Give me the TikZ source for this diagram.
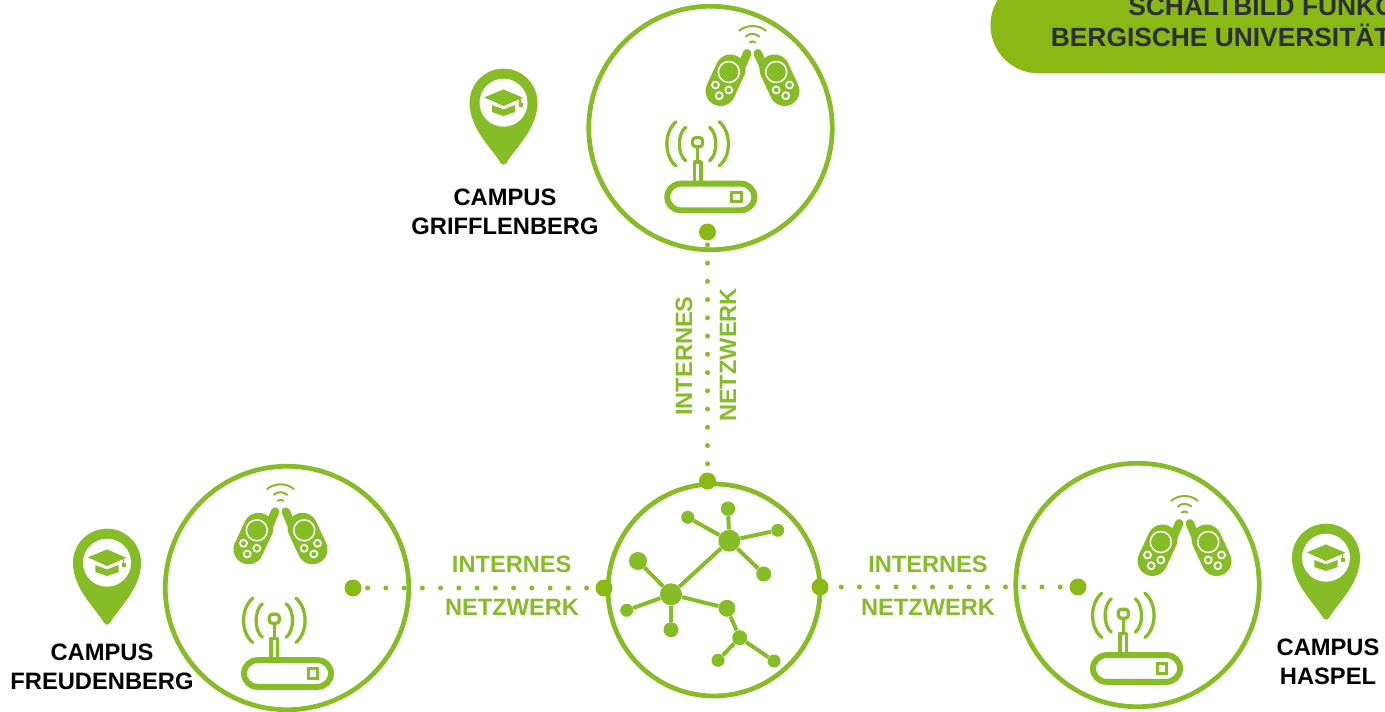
\documentclass[tikz,border=0pt]{standalone}
\usepackage{fontspec}
\usepackage{xcolor}
\setmainfont{Liberation Sans}
\definecolor{funkgreen}{HTML}{86BC25}
\definecolor{bannergreen}{HTML}{8AB916}
\definecolor{bannertext}{HTML}{2B2E33}
\tikzset{
  campusring/.style={circle,draw=funkgreen,line width=0.095cm,inner sep=0pt,minimum size=#1},
  hubdot/.style={circle,fill=bannergreen,inner sep=0pt,minimum size=0.34cm},
  netdot/.style={circle,fill=funkgreen,inner sep=0pt,minimum size=#1},
  netline/.style={draw=funkgreen,line width=0.08cm},
  dotline/.style={draw=funkgreen,line width=0.1cm,line cap=round,dash pattern=on 0pt off 0.365cm,dash phase=#1},
  campuslabel/.style={font=\fontsize{13.5}{16.5}\selectfont\bfseries,text=black,align=center,inner sep=0pt},
  netlabel/.style={font=\fontsize{13.45}{14}\selectfont\bfseries,text=funkgreen,inner sep=0pt},
  bannerlabel/.style={font=\fontsize{15}{16}\selectfont\bfseries,text=bannertext,inner sep=0pt,anchor=base west},
  iconline/.style={draw=funkgreen,line width=#1,line cap=round,line join=round},
}
\newcommand{\walkiehalf}{
  \draw[iconline=0.6cm] (-22,19.5) -- (-32,41);
  \draw[iconline=0.17cm] (-5.3,3.3) -- (-17.7,31.7);
  \filldraw[fill=funkgreen,draw=white,line width=0.03cm] (-23.7,22) circle (0.21cm);
  \filldraw[fill=funkgreen,draw=white,line width=0.035cm] (-37,35) circle (0.07cm);
  \filldraw[fill=funkgreen,draw=white,line width=0.035cm] (-23.7,40) circle (0.07cm);
  \filldraw[fill=funkgreen,draw=white,line width=0.035cm] (-33.3,45.7) circle (0.07cm);
}
\newcommand{\walkie}[2]{
  \begin{scope}[shift={(#1,#2)}]
    \walkiehalf
    \begin{scope}[xscale=-1]
      \walkiehalf
    \end{scope}
    \draw[iconline=0.04cm] (-13.3,-19.3) .. controls (-6,-25.5) and (6,-25.5) .. (13.3,-19.3);
    \draw[iconline=0.04cm] (-6.7,-13.5) .. controls (-3,-17) and (3,-17) .. (6.7,-13.5);
    \draw[iconline=0.04cm] (-2.8,-7.5) .. controls (-1,-9) and (1,-9) .. (2.8,-7.5);
  \end{scope}
}
\newcommand{\router}[2]{
  \begin{scope}[shift={(#1,#2)}]
    \draw[iconline=0.12cm,rounded corners=0.266cm] (-30,3.7) rectangle (57,30.3);
    \draw[draw=funkgreen,line width=0.06cm] (34.3,12.3) rectangle (43.7,21.7);
    \draw[iconline=0.07cm] (-3,2) -- (-3,-18) -- (3.7,-18) -- (3.7,2);
    \draw[iconline=0.07cm] (0.3,-18) -- (0.3,-31.7);
    \draw[iconline=0.065cm,rounded corners=0.06cm] (-4.7,-42.3) rectangle (5.3,-33.3);
    \draw[iconline=0.066cm] (-11.7,-52.7) .. controls (-20,-46) and (-20,-26) .. (-11.7,-19.3);
    \draw[iconline=0.066cm] (-21.3,-58.3) .. controls (-33.5,-48) and (-33.5,-24) .. (-21.3,-14);
    \draw[iconline=0.066cm] (12.3,-52.7) .. controls (20.6,-46) and (20.6,-26) .. (12.3,-19.3);
    \draw[iconline=0.066cm] (21.9,-58.3) .. controls (34.1,-48) and (34.1,-24) .. (21.9,-14);
  \end{scope}
}
\newcommand{\campuspin}[2]{
  \begin{scope}[shift={(#1,#2)}]
    \fill[funkgreen] (-34,0) .. controls (-34,-18.8) and (-18.8,-34) .. (0,-34) .. controls (18.8,-34) and (34,-18.8) .. (34,0) .. controls (34,26) and (12,45) .. (3,60) .. controls (1.5,62.5) and (-1.5,62.5) .. (-3,60) .. controls (-12,45) and (-34,26) .. (-34,0) -- cycle;
    \fill[white] (0,0) circle (0.48cm);
    \fill[funkgreen] (-19.3,-5.3) -- (0,-13.3) -- (19.3,-5) -- (0,3.3) -- cycle;
    \fill[funkgreen] (-11.7,2.3) -- (-11.7,9.3) -- (0,13.3) -- (11.7,9.3) -- (11.7,2.3) -- (0,6.7) -- cycle;
    \draw[draw=funkgreen,line width=0.03cm] (16.7,-4.3) -- (16.7,1);
    \fill[funkgreen] (15,0.7) rectangle (19,4.7);
  \end{scope}
}

\begin{document}
\begin{tikzpicture}[x=0.02cm,y=-0.02cm]
\useasboundingbox (0,0) rectangle (1385,712);

\fill[bannergreen,rounded corners=0.96cm] (1500,-23) -- (990.5,-23) -- (990.5,73.3) -- (1500,73.3) -- cycle;
\node[bannerlabel] (bannerA) at (1128,16) {SCHALTBILD FUNKO};
\node[bannerlabel] (bannerB) at (1050.5,46.7) {BERGISCHE UNIVERSITÄT};

\node[campusring=4.87cm] (ringG) at (710.5,128) {};
\node[campusring=4.87cm] (ringF) at (287,588) {};
\node[campusring=4.87cm] (ringH) at (1137.5,585) {};
\node[campusring=4.24cm] (ringN) at (714,590) {};

\node[hubdot] (hubG) at (707.5,232) {};
\node[hubdot] (hubNtop) at (707.5,481) {};
\node[hubdot] (hubF) at (353,588) {};
\node[hubdot] (hubNleft) at (604,588) {};
\node[hubdot] (hubNright) at (820,587) {};
\node[hubdot] (hubH) at (1078,587) {};

\draw[dotline=0.285cm] (hubG) -- (hubNtop);
\draw[dotline=0.25cm] (hubF) -- (hubNleft);
\draw[dotline=0.117cm] (hubNright) -- (hubH);

\node[netlabel,rotate=90] (netGa) at (684,356) {INTERNES};
\node[netlabel,rotate=90] (netGb) at (728,355) {NETZWERK};
\node[netlabel] (netFa) at (511.7,564.5) {INTERNES};
\node[netlabel] (netFb) at (512,607.7) {NETZWERK};
\node[netlabel] (netHa) at (928,564.5) {INTERNES};
\node[netlabel] (netHb) at (928,607.7) {NETZWERK};

\walkie{752.5}{50}
\walkie{280.5}{508.3}
\walkie{1184.5}{520}
\router{697.3}{180}
\router{274}{656.5}
\router{1123}{651.5}

\campuspin{503.5}{102.7}
\campuspin{107}{562.7}
\campuspin{1326}{557.7}
\node[campuslabel] (labelG) at (505,211.5) {CAMPUS\\GRIFFLENBERG};
\node[campuslabel] (labelF) at (102,667) {CAMPUS\\FREUDENBERG};
\node[campuslabel] (labelH) at (1328,662) {CAMPUS\\HASPEL};

\node[netdot=0.44cm] (nodeA) at (729.3,540.7) {};
\node[netdot=0.29cm] (nodeAa) at (728,508.7) {};
\node[netdot=0.26cm] (nodeAb) at (687.7,517.3) {};
\node[netdot=0.26cm] (nodeAc) at (777.7,530.3) {};
\node[netdot=0.3cm] (nodeAd) at (763.7,574) {};
\node[netdot=0.44cm] (nodeB) at (671,594.3) {};
\node[netdot=0.36cm] (nodeBa) at (638,561) {};
\node[netdot=0.26cm] (nodeBb) at (626.7,610.3) {};
\node[netdot=0.3cm] (nodeBc) at (671,629.7) {};
\node[netdot=0.34cm] (nodeC) at (727,608.3) {};
\node[netdot=0.3cm] (nodeD) at (739.7,637.7) {};
\node[netdot=0.26cm] (nodeDa) at (718,660.3) {};
\node[netdot=0.26cm] (nodeDb) at (774,661) {};
\draw[netline] (nodeA) -- (nodeAa);
\draw[netline] (nodeA) -- (nodeAb);
\draw[netline] (nodeA) -- (nodeAc);
\draw[netline] (nodeA) -- (nodeAd);
\draw[netline] (nodeA) -- (nodeB);
\draw[netline] (nodeB) -- (nodeBa);
\draw[netline] (nodeB) -- (nodeBb);
\draw[netline] (nodeB) -- (nodeBc);
\draw[netline] (nodeB) -- (nodeC);
\draw[netline] (nodeC) -- (nodeD);
\draw[netline] (nodeD) -- (nodeDa);
\draw[netline] (nodeD) -- (nodeDb);

\end{tikzpicture}
\end{document}
